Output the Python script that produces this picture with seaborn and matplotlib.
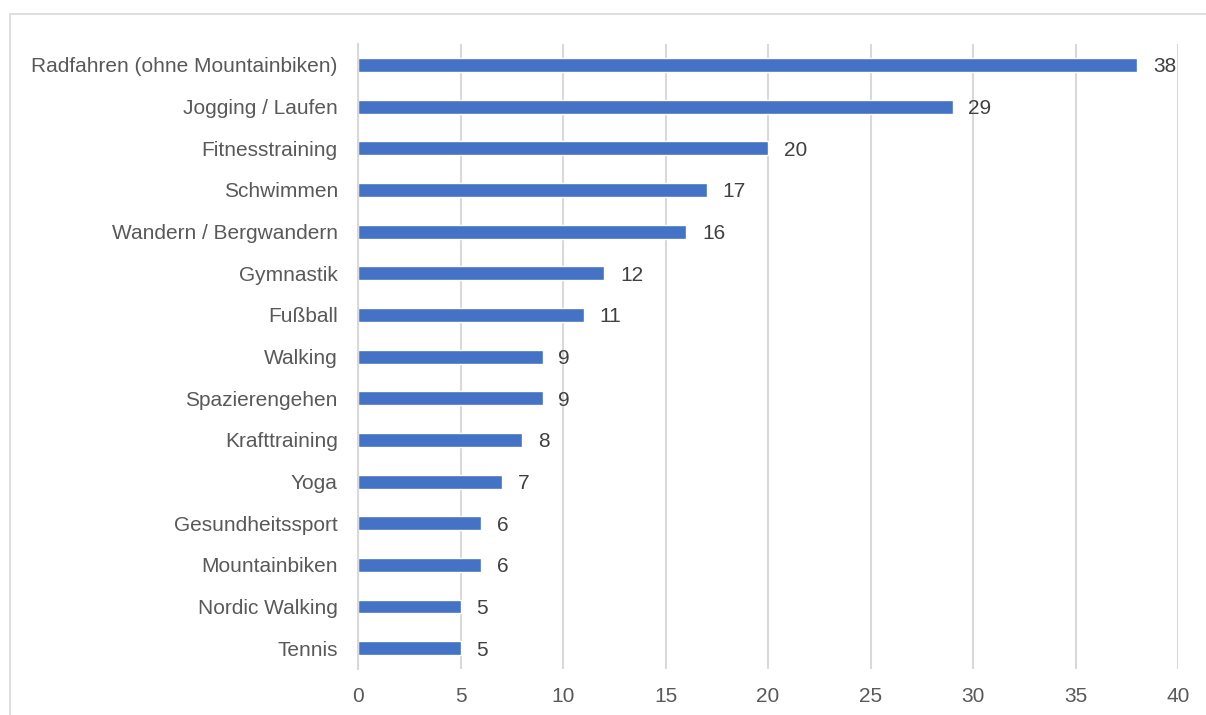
import matplotlib
matplotlib.use("Agg")
import matplotlib.pyplot as plt
import seaborn as sns
import pandas as pd
from matplotlib.patches import Rectangle

sports = [
    "Radfahren (ohne Mountainbiken)", "Jogging / Laufen", "Fitnesstraining",
    "Schwimmen", "Wandern / Bergwandern", "Gymnastik", "Fußball", "Walking",
    "Spazierengehen", "Krafttraining", "Yoga", "Gesundheitssport",
    "Mountainbiken", "Nordic Walking", "Tennis",
]
values = [38, 29, 20, 17, 16, 12, 11, 9, 9, 8, 7, 6, 6, 5, 5]
x_ticks = [0, 5, 10, 15, 20, 25, 30, 35, 40]

df = pd.DataFrame({"sport": sports, "wert": values})

sns.set_theme(style="white")
plt.rcParams["font.family"] = ["Liberation Sans", "DejaVu Sans"]

W, H = 1206, 715
fig = plt.figure(figsize=(W / 100, H / 100), dpi=100)
fig.patch.set_facecolor("white")

# light frame around the chart area
fig.patches.append(Rectangle((10 / W, -0.05), 1.1, 1 - 14 / H + 0.05,
                             transform=fig.transFigure, fill=False,
                             edgecolor="#d9d9d9", linewidth=1.2))

ax = fig.add_axes([358 / W, 1 - 669 / H, (1178 - 358) / W, (669 - 44) / H])
sns.barplot(data=df, y="sport", x="wert", color="#4472C4", width=0.336,
            saturation=1, ax=ax, order=sports)

ax.set_xlim(0, 40)
ax.set_ylim(len(sports) - 0.5, -0.5)
ax.set_xticks(x_ticks)
ax.set_xticklabels([str(t) for t in x_ticks])
ax.xaxis.grid(True, color="#d9d9d9", linewidth=1.5)
ax.set_axisbelow(True)
for s in ["top", "right", "bottom"]:
    ax.spines[s].set_visible(False)
ax.spines["left"].set_color("#d9d9d9")
ax.spines["left"].set_linewidth(1.5)
ax.set_xlabel("")
ax.set_ylabel("")
ax.tick_params(axis="both", length=0, labelsize=15, labelcolor="#595959")
ax.tick_params(axis="y", pad=14.5)
ax.tick_params(axis="x", pad=13)

for container in ax.containers:
    anns = ax.bar_label(container, labels=[str(v) for v in values],
                        padding=11.5, fontsize=15, color="#404040")
    for a in anns:
        a.xyann = (11.5, -1.5)

fig.savefig("out.png", dpi=100, facecolor="white")
